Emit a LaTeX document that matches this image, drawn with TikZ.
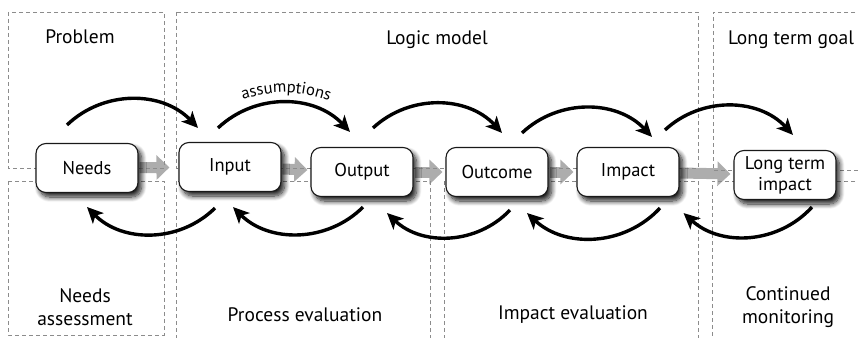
\documentclass[tikz,border=0pt]{standalone}
\usepackage{fontspec}
\setmainfont{PT Sans}
\usetikzlibrary{arrows.meta,shadows.blur,backgrounds,decorations.text}

\begin{document}
\begin{tikzpicture}[x=1pt, y=1pt,
    stage/.style={draw=black!90, line width=1.1pt, fill=white, rounded corners=10pt,
        minimum width=102pt, minimum height=49pt, align=center, inner sep=2pt,
        font=\fontsize{18.5}{21}\selectfont,
        blur shadow={shadow xshift=3.5pt, shadow yshift=-4.5pt, shadow blur radius=5pt,
            shadow blur steps=10, shadow opacity=90}},
    region/.style={draw=black!45, line width=0.8pt, dash pattern=on 4pt off 3pt},
    flow/.style={draw=black!32, line width=11pt, -{Triangle[length=13pt,width=24pt]},
        shorten <=1pt, shorten >=3pt},
    swing/.style={line width=3.4pt, bend left=45, -{Stealth[length=16pt,width=15pt,inset=4pt]}},
    label/.style={font=\fontsize{19.5}{23}\selectfont, align=center},
    ]
    \useasboundingbox (0,0) rectangle (858,-337);

    \draw[region] (8,-12) rectangle (164,-168);
    \draw[region] (176,-12) rectangle (698,-168);
    \draw[region] (862,-12) -- (713,-12) -- (713,-170) -- (862,-170);
    \draw[region] (8,-181) rectangle (164,-335);
    \draw[region] (176,-181) rectangle (430,-350);
    \draw[region] (444,-181) rectangle (698,-350);
    \draw[region] (862,-181) -- (712,-181) -- (712,-350);

    \node[label] (problem) at (80,-37) {Problem};
    \node[label] (logic) at (437,-40) {Logic model};
    \node[label] (goal) at (791,-40) {Long term goal};
    \node[label] (needsassess) at (85,-307) {Needs\\assessment};
    \node[label] (process) at (305,-315) {Process evaluation};
    \node[label] (impacteval) at (573,-315) {Impact evaluation};
    \node[label] (monitor) at (788,-307) {Continued\\monitoring};

    \node[stage] (needs) at (87,-168) {Needs};
    \node[stage] (input) at (230,-167) {Input};
    \node[stage] (output) at (362,-172) {Output};
    \node[stage] (outcome) at (497,-172) {Outcome};
    \node[stage] (impact) at (628,-172) {Impact};
    \node[stage] (longterm) at (785,-175) {Long term\\impact};

    \begin{scope}[on background layer]
        \draw[flow, shorten >=9pt] (needs) -- (input);
        \draw[flow] (input) -- (output);
        \draw[flow] (output) -- (outcome);
        \draw[flow] (outcome) -- (impact);
        \draw[flow] (impact) -- (longterm);
    \end{scope}

    \draw[swing] ([shift={(-20,18)}]needs.north) to ([shift={(-32,14)}]input.north);
    \draw[swing] ([shift={(-12,14)}]input.north) to ([shift={(-12,15)}]output.north);
    \draw[swing] ([shift={(11,19)}]output.north) to ([shift={(5,14)}]outcome.north);
    \draw[swing] ([shift={(25,14)}]outcome.north) to ([shift={(24,10)}]impact.north);
    \draw[swing] ([shift={(37,17)}]impact.north) to ([shift={(8,15)}]longterm.north);

    \path[decorate, decoration={text along path, text align=center,
        text={|\fontsize{16.5}{16.5}\selectfont|assumptions}}]
        ([shift={(0,38)}]input.north) to[bend left=22] ([shift={(-20,41)}]output.north);

    \draw[swing] ([shift={(-15,-16)}]input.south) to (needs.south |- 0,-207);
    \draw[swing] ([shift={(1,-10)}]output.south) to ([shift={(3,-15)}]input.south);
    \draw[swing] ([shift={(13,-13)}]outcome.south) to ([shift={(25,-16)}]output.south);
    \draw[swing] ([shift={(32,-11)}]impact.south) to ([shift={(30,-16)}]outcome.south);
    \draw[swing] ([shift={(27,-7)}]longterm.south) to ([shift={(4,-16)}]impact.south east);
\end{tikzpicture}
\end{document}
